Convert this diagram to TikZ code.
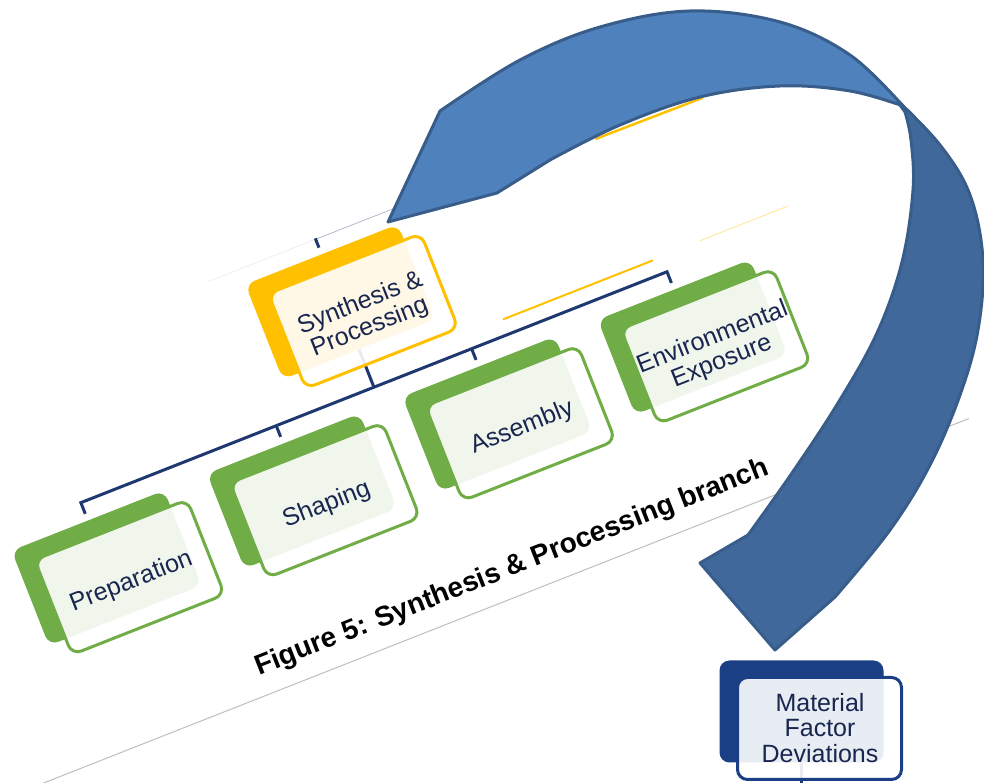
\documentclass[tikz,border=0pt]{standalone}
\usepackage{fontspec}
\setmainfont{Liberation Sans}
\usetikzlibrary{calc}

\definecolor{navy}{RGB}{31,56,112}
\definecolor{txtnavy}{RGB}{24,38,80}
\definecolor{leaf}{RGB}{112,173,71}
\definecolor{gold}{RGB}{255,192,0}
\definecolor{deepblue}{RGB}{27,63,133}
\definecolor{ribbon}{RGB}{79,129,189}
\definecolor{ribbondark}{RGB}{65,104,155}
\definecolor{ribbonedge}{RGB}{56,93,138}
\definecolor{pageline}{RGB}{190,190,190}

\tikzset{
  backbox/.style={rounded corners=10pt, minimum width=164pt, minimum height=102pt,
    inner sep=0pt, fill=#1},
  frontbox/.style={rounded corners=10pt, minimum width=164pt, minimum height=102pt,
    inner sep=0pt, draw=#1, line width=3pt, fill=white, fill opacity=0.9},
  boxtext/.style={text=txtnavy, font=\fontsize{25}{25.5}\selectfont, align=center, inner sep=0pt},
  captiontext/.style={font=\fontsize{28}{30}\selectfont\bfseries, inner sep=0pt},
  conn/.style={draw=navy, line width=3pt},
  faintconn/.style={draw=navy!35, line width=0.8pt},
  ribbonface/.style={fill=ribbon, draw=ribbonedge, line width=3pt, line join=round},
  ribbonback/.style={fill=ribbondark, draw=ribbonedge, line width=3pt, line join=round},
}

\begin{document}
\begin{tikzpicture}[x=1pt, y=1pt]
\useasboundingbox (0,0) rectangle (984,783);
\clip (0,0) rectangle (984,783);

% ---------- tilted org chart ----------
\begin{scope}[rotate=21.5, transform shape]
  % page rule under the caption
  \draw[pageline, line width=1pt] (20,-16) -- (1035,-16);

  % remnants of neighbouring branch lines
  \draw[gold, line width=2pt] (638,247) -- (799,247);
  \draw[gold, line width=1pt, opacity=0.35] (850,248) -- (945,248);
  \draw[gold, line width=2.5pt] (790,381) -- (905,380);

  % nodes: solid back plates
  \node[backbox=gold] (synB)  at (493,323) {};
  \node[backbox=leaf] (prepB) at (178,161) {};
  \node[backbox=leaf] (shapB) at (388,161) {};
  \node[backbox=leaf] (asmB)  at (598,161) {};
  \node[backbox=leaf] (envB)  at (808,161) {};

  % connectors
  \draw[faintconn, opacity=0.25] ($(synB.north)+(-115,16)$) -- ($(synB.north)+(0,16)$);
  \draw[faintconn] ($(synB.north)+(0,16)$) -- ($(synB.north)+(85,16)$);
  \draw[conn] ($(synB.north)+(0,7)$) -- ($(synB.north)+(0,17)$);
  \draw[conn] (synB.south) -- ($(synB.south)+(0,-41)$);
  \draw[conn] ($(prepB.north)+(0,7)$) -- ($(prepB.north)+(0,19)$)
              -- ($(envB.north)+(0,19)$) -- ($(envB.north)+(0,7)$);
  \draw[conn] ($(shapB.north)+(0,7)$) -- ($(shapB.north)+(0,19)$);
  \draw[conn] ($(asmB.north)+(0,7)$) -- ($(asmB.north)+(0,19)$);

  % nodes: translucent front cards
  \node[frontbox=gold] (synF)  at (511,306) {};
  \node[frontbox=leaf] (prepF) at (196,144) {};
  \node[frontbox=leaf] (shapF) at (406,144) {};
  \node[frontbox=leaf] (asmF)  at (616,144) {};
  \node[frontbox=leaf] (envF)  at (826,144) {};

  % card texts
  \node[boxtext] (synT)  at (511,301) {Synthesis \&\\Processing};
  \node[boxtext] (prepT) at (196,139) {Preparation};
  \node[boxtext] (shapT) at (406,139) {Shaping};
  \node[boxtext] (asmT)  at (616,139) {Assembly};
  \node[boxtext] (envT)  at (826,140) {Environmental\\Exposure};

  % caption
  \node[captiontext, anchor=base west] (cap) at (281,5)
    {Figure 5: Synthesis \& Processing branch};
\end{scope}

% ---------- twisted ribbon arrow ----------
\begin{scope}[shift={(0,783)}, yscale=-1]
  \path[ribbonback]
    plot[smooth, tension=0.6] coordinates {(895,98) (940,145) (970,195) (983,260)
      (978,330) (960,395) (930,465) (890,530) (835,597)}
    -- (775,650) -- (700,563) -- (748,535)
    -- plot[smooth, tension=0.6] coordinates {(748,535) (792,473) (838,403)
      (877,333) (902,262) (913,190) (911,140) (905,112)}
    -- cycle;
  \path[ribbonface]
    (388,222) -- (440,111)
    -- plot[smooth, tension=0.6] coordinates {(440,111) (520,60) (600,27)
      (690,11) (780,22) (850,55) (903,106)}
    -- plot[smooth, tension=0.6] coordinates {(903,106) (850,91) (780,86)
      (700,97) (620,125) (550,160)}
    -- (497,193) -- cycle;
\end{scope}

% ---------- target node ----------
\node[backbox=deepblue] (matB) at (801.5,71.5) {};
\draw[conn] (matB.south) -- ++(0,-30);
\node[frontbox=deepblue] (matF) at (819.5,54.5) {};
\node[boxtext] (matT) at (820,55) {Material\\Factor\\Deviations};

\end{tikzpicture}
\end{document}
